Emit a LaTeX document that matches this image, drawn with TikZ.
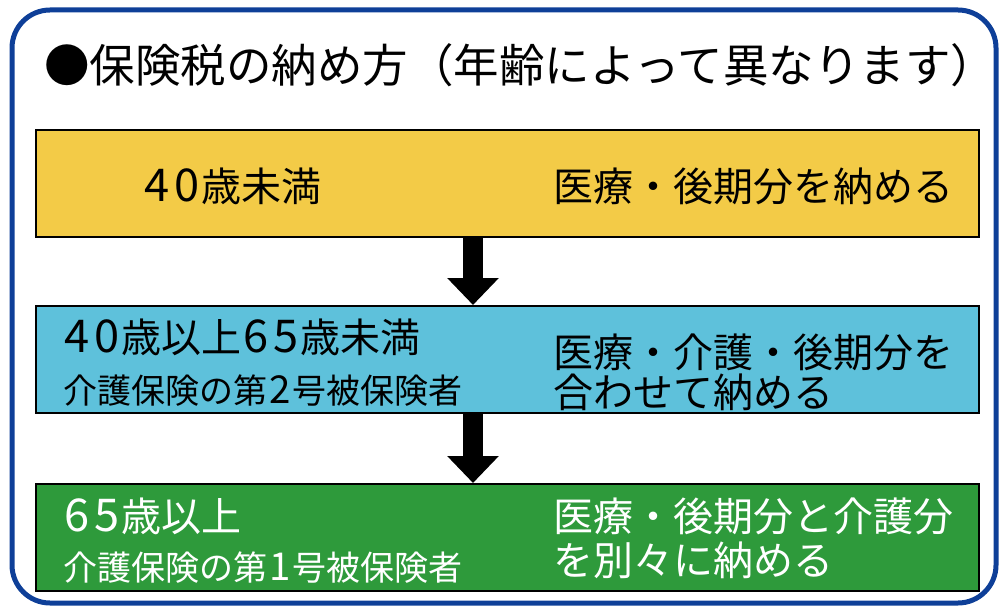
\documentclass[tikz,border=0pt]{standalone}
\usepackage{fontspec}
\setmainfont{Noto Sans CJK JP}
\usetikzlibrary{arrows.meta}

\definecolor{frameblue}{HTML}{0E3F98}
\definecolor{boxyellow}{HTML}{F3CB47}
\definecolor{boxblue}{HTML}{5EC1DB}
\definecolor{boxgreen}{HTML}{2E9A3B}

\newcommand\dig[1]{\makebox[.74em]{\scalebox{1.13}{#1}}}

\tikzset{
  box/.style={draw=black, line width=2pt, anchor=north west, minimum width=943pt, minimum height=107pt, inner sep=0pt},
  big/.style={anchor=base west, inner sep=0pt, font=\fontsize{40pt}{40pt}\selectfont},
  small/.style={anchor=base west, inner sep=0pt, font=\fontsize{34pt}{34pt}\selectfont},
  downarrow/.style={line width=20pt, -{Triangle[width=50pt,length=27pt]}}
}

\begin{document}
\begin{tikzpicture}[x=1pt,y=-1pt]
  \useasboundingbox (0,0) rectangle (1008,612);
  \draw[frameblue, line width=5pt, rounded corners=38pt] (12,10) rectangle (996,603);

  \node[anchor=base west, inner sep=0pt, font=\fontsize{45.5pt}{45.5pt}\selectfont] (T) at (44,83) {●保険税の納め方（年齢によって異なります）};

  % the three boxes
  \node[box, fill=boxyellow] (A) at (35,129) {};
  \node[box, fill=boxblue] (B) at (35,305) {};
  \node[box, fill=boxgreen] (C) at (35,483) {};

  % arrows
  \coordinate (X) at (473,0);
  \draw[downarrow] (X |- A.south) -- (X |- B.north);
  \draw[downarrow] (X |- B.south) -- (X |- C.north);

  % texts
  \node[big] (A1) at (142,202) {\dig4\dig0歳未満};
  \node[big] (A2) at (553,202) {医療・後期分を納める};

  \node[big] (B1) at (62,352) {\dig4\dig0歳以上\dig6\dig5歳未満};
  \node[small] (B2) at (63,403) {介護保険の第\dig2号被保険者};
  \node[big] (B3) at (553,367) {医療・介護・後期分を};
  \node[big] (B4) at (553,407) {合わせて納める};

  \node[big, white] (C1) at (62,531) {\dig6\dig5歳以上};
  \node[small, white] (C2) at (63,580) {介護保険の第\dig1号被保険者};
  \node[big, white] (C3) at (553,531) {医療・後期分と介護分};
  \node[big, white] (C4) at (553,575) {を別々に納める};
\end{tikzpicture}
\end{document}
